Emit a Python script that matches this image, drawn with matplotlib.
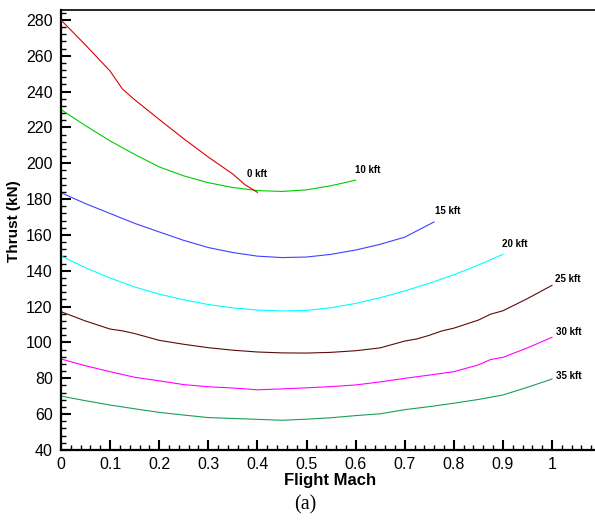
import numpy as np
import matplotlib.pyplot as plt
from matplotlib.ticker import MultipleLocator, FormatStrFormatter

plt.rcParams['font.family'] = ['Liberation Sans', 'DejaVu Sans']

# thrust (kN) vs flight Mach, one curve per altitude
mach_0 = [0, 0.05, 0.1, 0.125, 0.15, 0.2, 0.25, 0.3, 0.35, 0.375, 0.4]
thr_0 = [280, 266, 251.5, 241.5, 235.5, 224.5, 213.7, 203.5, 194, 188, 183.8]

mach_10 = [0, 0.05, 0.1, 0.15, 0.2, 0.25, 0.3, 0.35, 0.4, 0.45, 0.5, 0.55, 0.6]
thr_10 = [230, 221, 212.5, 205, 198, 193, 189.2, 186.5, 184.8, 184.3, 185.2, 187.5, 190.6]

mach_15 = [0, 0.05, 0.1, 0.15, 0.2, 0.25, 0.3, 0.35, 0.4, 0.45, 0.5, 0.55, 0.6, 0.65, 0.7, 0.76]
thr_15 = [183.6, 177.5, 172, 166.5, 161.7, 157, 153, 150.2, 148.2, 147.4, 147.7, 149.2, 151.6,
          154.8, 158.8, 167.3]

mach_20 = [0, 0.05, 0.1, 0.15, 0.2, 0.25, 0.3, 0.35, 0.4, 0.45, 0.5, 0.55, 0.6, 0.65, 0.7,
           0.75, 0.8, 0.85, 0.9]
thr_20 = [148.3, 141.7, 136, 131, 127, 123.8, 121.2, 119.3, 118.1, 117.6, 117.9, 119.4, 121.8,
          125, 128.8, 133, 137.8, 143.2, 149.2]

mach_25 = [0, 0.05, 0.1, 0.125, 0.15, 0.2, 0.25, 0.3, 0.35, 0.4, 0.45, 0.5, 0.55, 0.6, 0.65,
           0.7, 0.725, 0.75, 0.775, 0.8, 0.85, 0.875, 0.9, 0.95, 1.0]
thr_25 = [117.2, 112, 107.5, 106.5, 105, 101.2, 99, 97.1, 95.7, 94.7, 94.2, 94.1, 94.5, 95.4,
          97, 100.8, 102, 104, 106.4, 108, 112.5, 115.8, 117.7, 124.5, 131.9]

mach_30 = [0, 0.05, 0.1, 0.15, 0.2, 0.25, 0.3, 0.35, 0.4, 0.45, 0.5, 0.55, 0.6, 0.65, 0.7,
           0.75, 0.8, 0.85, 0.875, 0.9, 0.95, 1.0]
thr_30 = [90.8, 87, 83.7, 80.6, 78.6, 76.5, 75.3, 74.6, 73.6, 74.1, 74.7, 75.4, 76.3, 78, 80,
          81.8, 83.7, 87.5, 90.5, 91.7, 97, 102.9]

mach_35 = [0, 0.05, 0.1, 0.15, 0.2, 0.25, 0.3, 0.35, 0.4, 0.45, 0.5, 0.55, 0.6, 0.65, 0.7,
           0.75, 0.8, 0.85, 0.9, 0.95, 1.0]
thr_35 = [70.1, 67.5, 65.1, 63, 61, 59.5, 58.1, 57.6, 57.1, 56.6, 57.2, 58, 59.2, 60.2, 62.5,
          64.2, 66.1, 68.2, 70.7, 75, 79.6]

curves = [
    (mach_0, thr_0, '#e00000', '0 kft', (0.378, 194)),
    (mach_10, thr_10, '#00cc00', '10 kft', (0.599, 196)),
    (mach_15, thr_15, '#4040ff', '15 kft', (0.762, 173.6)),
    (mach_20, thr_20, '#00ffff', '20 kft', (0.899, 155)),
    (mach_25, thr_25, '#5c0a0a', '25 kft', (1.007, 135.4)),
    (mach_30, thr_30, '#ff00ff', '30 kft', (1.009, 106)),
    (mach_35, thr_35, '#1a9f5a', '35 kft', (1.009, 81.5)),
]

fig = plt.figure(figsize=(5.95, 5.24), dpi=100)
ax = fig.add_axes([61/595, 74/524, 539/595, 440/524])

# the green 10 kft curve sits under the red one
for i, (m, t, c, lab, pos) in enumerate(curves):
    ax.plot(m, t, color=c, lw=0.8, zorder=3 if i == 0 else 2)
    ax.text(pos[0], pos[1], lab, fontsize=7, fontweight='bold', ha='left', va='center')

ax.set_xlim(0, 539/491)
ax.set_ylim(40, 40 + 440/1.7917)

ax.xaxis.set_major_locator(MultipleLocator(0.1))
ax.xaxis.set_minor_locator(MultipleLocator(0.02))
ax.yaxis.set_major_locator(MultipleLocator(20))
ax.yaxis.set_minor_locator(MultipleLocator(4))
ax.xaxis.set_major_formatter(FormatStrFormatter('%g'))

ax.tick_params(which='both', direction='in', top=False, right=False, labelsize=11.5)
ax.tick_params(which='major', length=7.5, width=1.5)
ax.tick_params(which='minor', length=3.8, width=1.0)
ax.tick_params(axis='x', pad=5)
ax.tick_params(axis='y', pad=6)

ax.spines['right'].set_visible(False)
ax.spines['left'].set_linewidth(1.6)
ax.spines['bottom'].set_linewidth(1.6)
ax.spines['top'].set_linewidth(1.2)

ax.set_xlabel('Flight Mach', fontsize=12, fontweight='bold', labelpad=1)
ax.set_ylabel('Thrust (kN)', fontsize=11, fontweight='bold')
ax.yaxis.set_label_coords(-0.075, 0.52)

fig.text(305/595, 1 - 505/524, '(a)', ha='center', va='center',
         family=['Liberation Serif', 'DejaVu Serif'], fontsize=14.5)

fig.savefig('out.png', dpi=100)
